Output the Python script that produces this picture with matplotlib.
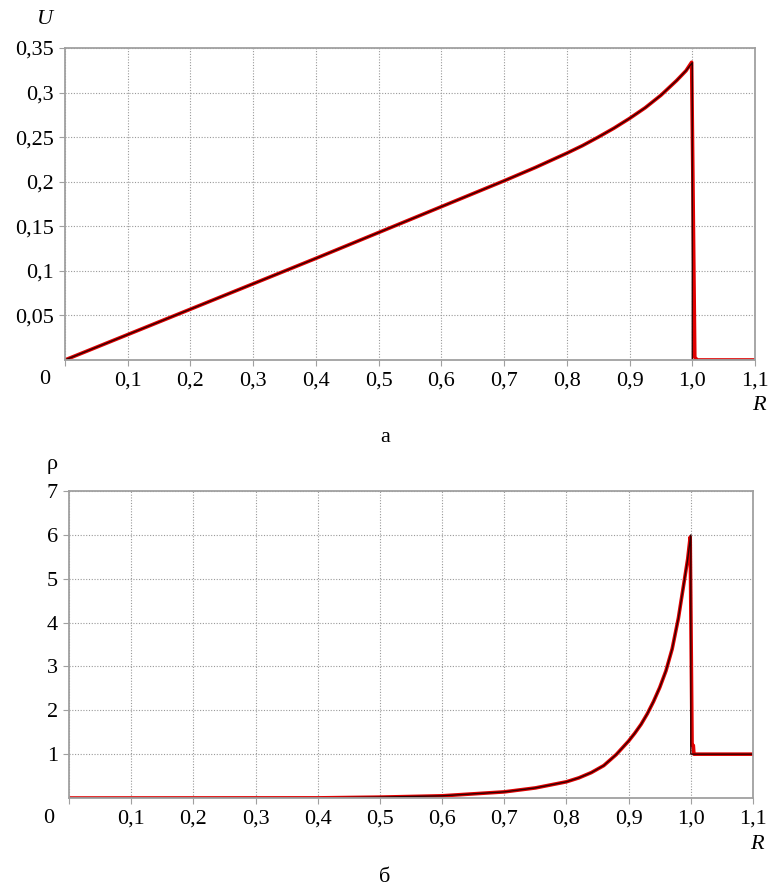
import matplotlib
matplotlib.use("Agg")
from matplotlib import pyplot as plt

plt.rcParams['font.family'] = ['Liberation Serif', 'DejaVu Serif']

# скорость U(R)
r_u_black = [0, 0.1, 0.2, 0.3, 0.4, 0.5, 0.6, 0.7, 0.75, 0.8, 0.825, 0.85, 0.875, 0.9, 0.925, 0.95, 0.975, 0.99, 1.0, 1.0, 1.1]
u_black = [0, 0.0285, 0.057, 0.0855, 0.114, 0.143, 0.172, 0.201, 0.216, 0.232, 0.2405, 0.250, 0.260, 0.271, 0.283, 0.297, 0.3135, 0.3245, 0.3335, 0, 0]
r_u_red = [0, 0.1, 0.2, 0.3, 0.4, 0.5, 0.6, 0.7, 0.75, 0.8, 0.825, 0.85, 0.875, 0.9, 0.925, 0.95, 0.975, 0.99, 0.999, 1.004, 1.008, 1.1]
u_red = [0, 0.0285, 0.057, 0.0855, 0.114, 0.143, 0.172, 0.201, 0.216, 0.232, 0.2405, 0.250, 0.260, 0.271, 0.283, 0.297, 0.3135, 0.3245, 0.334, 0.003, 0, 0]

# плотность rho(R)
r_rho_black = [0, 0.4, 0.5, 0.6, 0.7, 0.75, 0.8, 0.82, 0.84, 0.86, 0.88, 0.9, 0.91, 0.92, 0.93, 0.94, 0.95, 0.96,
               0.97, 0.975, 0.98, 0.985, 0.99, 0.995, 1.0, 1.0, 1.1]
rho_black = [0, 0.003, 0.02, 0.05, 0.14, 0.23, 0.37, 0.46, 0.58, 0.74, 0.99, 1.3, 1.48, 1.68, 1.92, 2.2, 2.52, 2.9,
             3.4, 3.75, 4.1, 4.55, 5.0, 5.45, 6.0, 1.0, 1.0]
r_rho_red = [0, 0.4, 0.5, 0.6, 0.7, 0.75, 0.8, 0.82, 0.84, 0.86, 0.88, 0.9, 0.91, 0.92, 0.93, 0.94, 0.95, 0.96,
             0.97, 0.975, 0.98, 0.985, 0.99, 0.995, 0.999, 1.002, 1.004, 1.005, 1.1]
rho_red = [0, 0.003, 0.02, 0.05, 0.14, 0.23, 0.37, 0.46, 0.58, 0.74, 0.99, 1.3, 1.48, 1.68, 1.92, 2.2, 2.52, 2.9,
           3.4, 3.75, 4.1, 4.55, 5.0, 5.45, 5.95, 1.2, 1.2, 1.0, 1.0]

x_ticks = [0.1 * i for i in range(1, 12)]
x_labels = ["0,1", "0,2", "0,3", "0,4", "0,5", "0,6", "0,7", "0,8", "0,9", "1,0", "1,1"]
u_ticks = [0.05, 0.1, 0.15, 0.2, 0.25, 0.3, 0.35]
u_labels = ["0,05", "0,1", "0,15", "0,2", "0,25", "0,3", "0,35"]
rho_ticks = [1, 2, 3, 4, 5, 6, 7]
rho_labels = ["1", "2", "3", "4", "5", "6", "7"]

fig = plt.figure(figsize=(7.69, 8.86), dpi=100)
ax1 = fig.add_axes([0.0845, 0.5937, 0.8973, 0.3521])
ax2 = fig.add_axes([0.0897, 0.0993, 0.8895, 0.3465])


def style(ax, yticks, ylabels, ymax):
    ax.set_xlim(0, 1.1)
    ax.set_ylim(0, ymax)
    ax.set_xticks([0] + x_ticks)
    ax.set_xticklabels([""] + x_labels)
    ax.set_yticks(yticks)
    ax.set_yticklabels(ylabels)
    ax.grid(True, color="#999999", linestyle=(0, (1, 1.5)), linewidth=0.8)
    for s in ax.spines.values():
        s.set_color("#a0a0a0")
        s.set_linewidth(1.3)
    ax.tick_params(direction="out", length=4, color="#a0a0a0", labelsize=16, pad=4)
    ax.annotate("0", xy=(0, 0), xycoords="axes fraction", xytext=(-20, -20),
                textcoords="offset pixels", ha="center", va="center", fontsize=16)
    ax.annotate("R", xy=(1, 0), xycoords="axes fraction", xytext=(4, -46),
                textcoords="offset pixels", ha="center", va="center",
                fontsize=16, style="italic")


ax1.plot(r_u_red, u_red, color="#e00000", linewidth=2.6)
ax1.plot(r_u_black, u_black, color="#300000", linewidth=1.0)
style(ax1, u_ticks, u_labels, 0.35)

ax2.plot(r_rho_red, rho_red, color="#e00000", linewidth=2.6)
ax2.plot(r_rho_black, rho_black, color="#300000", linewidth=1.0)
style(ax2, rho_ticks, rho_labels, 7)

fig.text(45 / 769, 1 - 20 / 886, "U", fontsize=16, style="italic", ha="center", va="center")
fig.text(52 / 769, 1 - 465 / 886, "ρ", fontsize=16, ha="center", va="center")
fig.text(385 / 769, 1 - 438 / 886, "а", fontsize=16, ha="center", va="center")
fig.text(385 / 769, 1 - 878 / 886, "б", fontsize=16, ha="center", va="center")

plt.savefig("out.png", dpi=100)
